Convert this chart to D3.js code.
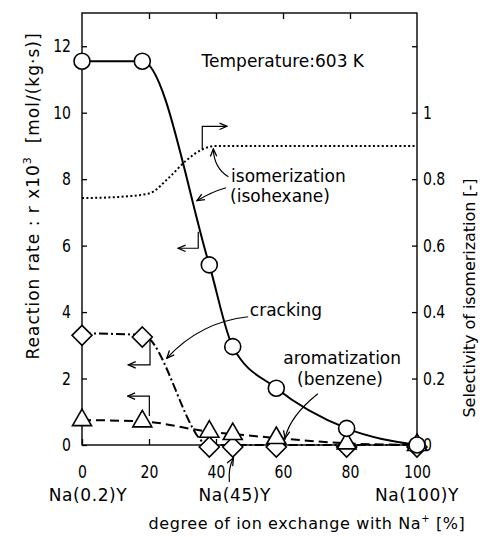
<!DOCTYPE html>
<html>
<head>
<meta charset="utf-8">
<script src="https://cdn.jsdelivr.net/npm/d3@7"></script>
<style>
  html, body { margin: 0; padding: 0; background: #fff; }
  svg { display: block; font-family: "DejaVu Sans", sans-serif; }
</style>
</head>
<body>
<svg id="chart" width="485" height="537"></svg>
<script>
// Degree of Na+ ion exchange of the Y zeolite samples [%]
const exchange = [0, 18, 38, 45, 58, 79, 100];
// Reaction rates r x 10^3 [mol/(kg·s)] at 603 K
const isomerizationRate = [11.55, 11.55, 5.42, 2.96, 1.71, 0.50, 0];
const crackingRate = [3.36, 3.31, 0, 0, 0, 0, 0];
const aromatizationRate = [0.75, 0.71, 0.40, 0.33, 0.21, 0.05, 0];
// Selectivity of isomerization (right axis)
const selectivityX = [0, 10, 20, 26, 31, 36, 40, 60, 80, 100];
const selectivity = [0.743, 0.746, 0.757, 0.805, 0.855, 0.89, 0.9, 0.9, 0.9, 0.9];

// Axis ticks and labels
const xTicks = [0, 20, 40, 60, 80, 100];
const leftTicks = [0, 2, 4, 6, 8, 10, 12];
const rightTicks = [0, 0.2, 0.4, 0.6, 0.8, 1, 1.2];
const rightTickLabels = ["0", "0.2", "0.4", "0.6", "0.8", "1", ""];
const sampleNames = ["Na(0.2)Y", "Na(45)Y", "Na(100)Y"];
const sampleExchange = [0, 45, 100];

const plot = { left: 82, right: 417, top: 13, bottom: 445 };
const x = d3.scaleLinear().domain([0, 100]).range([plot.left, plot.right]);
const y = d3.scaleLinear().domain([0, 13]).range([plot.bottom, plot.top]);
const yR = d3.scaleLinear().domain([0, 1.3]).range([plot.bottom, plot.top]);

const svg = d3.select("#chart");
const ink = "#000";

// arrow head shared by the annotation leaders
svg.append("defs").append("marker")
  .attr("id", "head")
  .attr("viewBox", "-9 -5 10 10")
  .attr("refX", 0).attr("refY", 0)
  .attr("markerWidth", 10).attr("markerHeight", 10)
  .attr("markerUnits", "userSpaceOnUse")
  .attr("orient", "auto")
  .append("path")
  .attr("d", "M-7.5,-3.2L0,0L-7.5,3.2")
  .attr("fill", "none").attr("stroke", ink).attr("stroke-width", 1.3);

// plot frame
svg.append("rect")
  .attr("x", plot.left).attr("y", plot.top)
  .attr("width", plot.right - plot.left).attr("height", plot.bottom - plot.top)
  .attr("fill", "none").attr("stroke", ink).attr("stroke-width", 1.4);

// tick numerals are drawn narrow: squeeze horizontally, keeping their anchor point
const squeeze = 0.78;
function styleAxis(g) {
  g.select(".domain").remove();
  g.attr("font-family", "DejaVu Sans").attr("font-size", 18);
  g.selectAll(".tick line").attr("stroke", ink).attr("stroke-width", 1.3);
  g.selectAll(".tick text").each(function () {
    const t = d3.select(this);
    const tx = +t.attr("x") || 0;
    t.attr("fill", ink)
      .attr("x", tx / squeeze)
      .attr("transform", `scale(${squeeze},1)`);
  });
}

svg.append("g").attr("transform", `translate(${plot.left},0)`)
  .call(d3.axisLeft(y).tickValues(leftTicks).tickSize(-5).tickPadding(11))
  .call(styleAxis);

svg.append("g").attr("transform", `translate(${plot.right},0)`)
  .call(d3.axisRight(yR).tickValues(rightTicks)
    .tickFormat((d, i) => rightTickLabels[i]).tickSize(-5).tickPadding(6))
  .call(styleAxis);

svg.append("g").attr("transform", `translate(0,${plot.bottom})`)
  .call(d3.axisBottom(x).tickValues(xTicks).tickSize(-6).tickPadding(20))
  .call(styleAxis);

svg.append("g").attr("transform", `translate(0,${plot.top})`)
  .call(d3.axisTop(x).tickValues(xTicks.slice(1, -1)).tickSize(-6).tickFormat(""))
  .call(styleAxis);

// curves
const rateLine = d3.line()
  .x(d => x(d[0])).y(d => y(d[1]))
  .curve(d3.curveMonotoneX);
const selLine = d3.line()
  .x(d => x(d[0])).y(d => yR(d[1]))
  .curve(d3.curveMonotoneX);

svg.append("path")
  .attr("d", selLine(d3.zip(selectivityX, selectivity)))
  .attr("fill", "none").attr("stroke", ink).attr("stroke-width", 2)
  .attr("stroke-dasharray", "2,2.4");

svg.append("path")
  .attr("d", rateLine(d3.zip(exchange, aromatizationRate)))
  .attr("fill", "none").attr("stroke", ink).attr("stroke-width", 2)
  .attr("stroke-dasharray", "9,5");

svg.append("path")
  .attr("d", rateLine(d3.zip(exchange, crackingRate)))
  .attr("fill", "none").attr("stroke", ink).attr("stroke-width", 2)
  .attr("stroke-dasharray", "9,3,2,3");

svg.append("path")
  .attr("d", rateLine(d3.zip(exchange, isomerizationRate)))
  .attr("fill", "none").attr("stroke", ink).attr("stroke-width", 2);

// point symbols
const diamond = "M0,-10L10,0L0,10L-10,0Z";
const triangle = "M0,-11L9.5,5.5L-9.5,5.5Z";

svg.append("g").selectAll("path")
  .data(d3.zip(exchange, crackingRate)).join("path")
  .attr("transform", d => `translate(${x(d[0])},${y(d[1]) + 2})`)
  .attr("d", diamond)
  .attr("fill", "#fff").attr("stroke", ink).attr("stroke-width", 1.6);

svg.append("g").selectAll("path")
  .data(d3.zip(exchange, aromatizationRate)).join("path")
  .attr("transform", d => `translate(${x(d[0])},${y(d[1])})`)
  .attr("d", triangle)
  .attr("fill", "#fff").attr("stroke", ink).attr("stroke-width", 1.6);

svg.append("g").selectAll("circle")
  .data(d3.zip(exchange, isomerizationRate)).join("circle")
  .attr("cx", d => x(d[0])).attr("cy", d => y(d[1])).attr("r", 8)
  .attr("fill", "#fff").attr("stroke", ink).attr("stroke-width", 1.6);

// annotation leaders
const P = (a, b) => [x(a), y(b)];
function curved(s, c, e) {
  const p = d3.path();
  p.moveTo(...P(...s));
  p.quadraticCurveTo(...P(...c), ...P(...e));
  return p.toString();
}
function bent(pts) {
  return d3.line()(pts.map(q => P(...q)));
}
const leaders = [
  curved([43.7, 8.07], [39.4, 8.34], [39.2, 8.91]),
  curved([43.0, 7.74], [38.8, 7.62], [34.3, 7.35]),
  curved([49.6, 3.86], [35.2, 3.70], [25.3, 2.61]),
  curved([70.4, 1.54], [62.1, 0.87], [60.6, 0.20]),
  curved([44.0, -1.11], [43.6, -0.69], [45.2, -0.39]),
  bent([[35.9, 8.91], [35.9, 9.59], [43.3, 9.59]]),
  bent([[34.7, 6.42], [34.7, 5.92], [28.7, 5.92]]),
  bent([[20.3, 3.16], [20.3, 2.41], [13.8, 2.41]]),
  bent([[20.1, 0.87], [20.1, 1.47], [13.6, 1.47]])
];
svg.append("g").selectAll("path").data(leaders).join("path")
  .attr("d", d => d)
  .attr("fill", "none").attr("stroke", ink).attr("stroke-width", 1.2)
  .attr("marker-end", "url(#head)");

// labels inside the plot
const label = (t, a, b) => svg.append("text")
  .attr("x", x(a)).attr("y", y(b))
  .attr("font-size", 17).attr("fill", ink).text(t);
label("Temperature:603 K", 35.7, 11.39);
label("isomerization", 44.5, 7.91);
label("(isohexane)", 44.2, 7.32);
label("cracking", 50.1, 3.89);
label("aromatization", 60.1, 2.44);
label("(benzene)", 64.2, 1.81);

// sample names under the exchange axis
const nameShift = [6, 2, 0];
svg.append("g").selectAll("text").data(sampleNames).join("text")
  .attr("x", (d, i) => x(sampleExchange[i]) + nameShift[i])
  .attr("y", plot.bottom + 56)
  .attr("text-anchor", "middle").attr("font-size", 17)
  .attr("letter-spacing", 0.6).attr("fill", ink)
  .text(d => d);

// axis titles
const xTitle = svg.append("text")
  .attr("x", 307).attr("y", 529)
  .attr("text-anchor", "middle").attr("font-size", 16)
  .attr("letter-spacing", 0.6).attr("fill", ink);
xTitle.append("tspan").text("degree of ion exchange with Na");
xTitle.append("tspan").attr("dy", -7).attr("font-size", 10).text("+");
xTitle.append("tspan").attr("dy", 7).text(" [%]");

const yTitle = svg.append("text")
  .attr("transform", "translate(39,196) rotate(-90)")
  .attr("text-anchor", "middle").attr("font-size", 17)
  .attr("letter-spacing", 1).attr("fill", ink);
yTitle.append("tspan").text("Reaction rate : r x10");
yTitle.append("tspan").attr("dy", -8).attr("font-size", 11).text("3");
yTitle.append("tspan").attr("dy", 8).text("\u00a0\u00a0[mol/(kg\u00b7s)]");

svg.append("text")
  .attr("transform", "translate(475,298) rotate(-90)")
  .attr("text-anchor", "middle").attr("font-size", 16)
  .attr("textLength", 239).attr("lengthAdjust", "spacing")
  .attr("fill", ink)
  .text("Selectivity of isomerization [-]");
</script>
</body>
</html>
